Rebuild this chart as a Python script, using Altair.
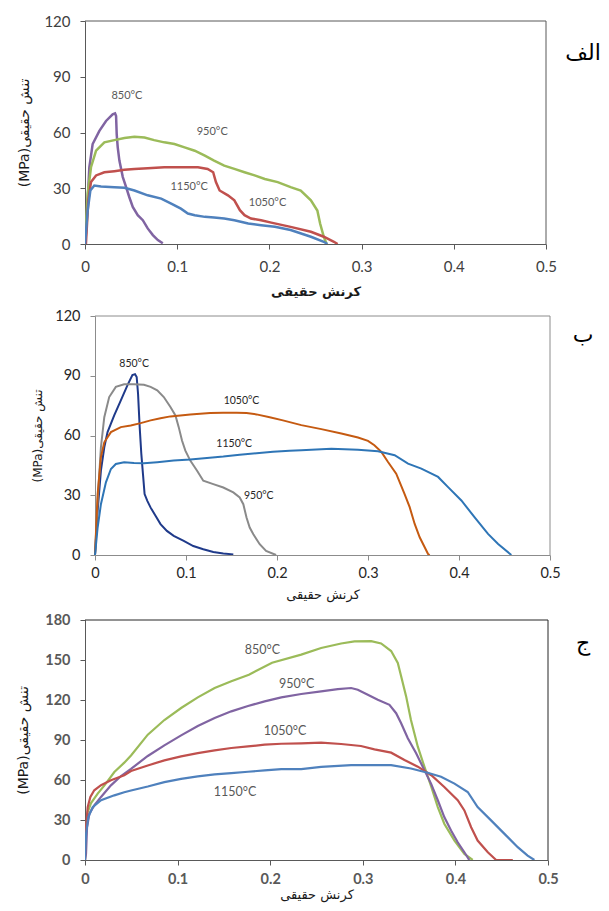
import altair as alt
import pandas as pd

TEMPS = ["850°C", "950°C", "1050°C", "1150°C"]
PANEL_LETTERS = ["الف", "ب", "ج"]
X_TITLE = "کرنش حقیقی"
Y_TITLE = "(MPa)تنش حقیقی"
X_TICKS = [0, 0.1, 0.2, 0.3, 0.4, 0.5]
Y_TICKS_AB = [0, 30, 60, 90, 120]
Y_TICKS_C = [0, 30, 60, 90, 120, 150, 180]

# ---------------- panel الف ----------------
a850_x = [0, 0.0011, 0.0047, 0.0083, 0.0156, 0.0228, 0.030, 0.0326, 0.0337, 0.0344, 0.0355, 0.0373, 0.041, 0.0446, 0.048, 0.0518, 0.0572, 0.0627, 0.068, 0.0736, 0.079, 0.0844]
a850_y = [0, 5.7, 41.3, 53.8, 60.9, 66.2, 69.8, 70.3, 68.9, 59, 52, 44.9, 36, 30.6, 25.3, 19.9, 15.5, 12.8, 8.4, 4.8, 2.1, 0.4]
a950_x = [0, 0.0015, 0.0029, 0.0065, 0.012, 0.021, 0.0319, 0.0428, 0.0536, 0.0645, 0.075, 0.086, 0.097, 0.108, 0.119, 0.13, 0.14, 0.151, 0.162, 0.173, 0.184, 0.195, 0.209, 0.223, 0.234, 0.245, 0.252, 0.255, 0.259, 0.262]
a950_y = [0, 14, 27, 41.3, 50.2, 54.7, 55.9, 57, 57.7, 57.3, 55.9, 54.7, 53.8, 52, 50.2, 47.5, 44.9, 42.2, 40.4, 38.6, 36.9, 35, 33.3, 30.6, 28.8, 23.5, 18, 11, 3.9, 0]
a1050_x = [0.001, 0.0036, 0.0065, 0.012, 0.021, 0.0319, 0.0428, 0.0536, 0.068, 0.086, 0.104, 0.1225, 0.133, 0.139, 0.142, 0.146, 0.155, 0.162, 0.168, 0.173, 0.180, 0.191, 0.202, 0.223, 0.245, 0.259, 0.27, 0.274]
a1050_y = [0, 23.5, 33.3, 36.9, 38.6, 39.2, 39.9, 40.4, 40.8, 41.3, 41.3, 41.3, 40.4, 38.6, 33.3, 28.8, 26.2, 23.5, 18.2, 15.5, 13.7, 12.8, 11.5, 9.2, 6.6, 3.9, 1.2, 0]
a1150_x = [0, 0.0029, 0.0058, 0.0101, 0.0174, 0.0319, 0.0428, 0.0536, 0.068, 0.0826, 0.0935, 0.104, 0.1116, 0.119, 0.13, 0.14, 0.151, 0.162, 0.177, 0.191, 0.206, 0.223, 0.245, 0.259, 0.263]
a1150_y = [0, 18, 28.8, 31.5, 31, 30.6, 30.3, 28.8, 26.2, 24.4, 21.7, 19, 16.4, 15.5, 14.6, 14.2, 13.7, 12.8, 11, 10.1, 9.3, 7.5, 3.9, 1.2, 0]
a_label_x = [0.0455, 0.138, 0.198, 0.113]
a_label_y = [79.5, 60.5, 22, 30.6]
a_colors = ["#8064A2", "#9BBB59", "#C0504D", "#4F81BD"]

# ---------------- panel ب ----------------
b850_x = [0, 0.0029, 0.0065, 0.0102, 0.0138, 0.0211, 0.0284, 0.0356, 0.0411, 0.044, 0.0458, 0.0473, 0.0491, 0.0509, 0.0527, 0.0545, 0.0575, 0.061, 0.0665, 0.072, 0.079, 0.0865, 0.0975, 0.108, 0.119, 0.130, 0.141, 0.152]
b850_y = [0, 22.2, 42.4, 54.1, 61.7, 70.1, 77.6, 85.2, 90.3, 90.8, 89.4, 81, 64.2, 50.8, 40.7, 30.6, 27.2, 23.9, 19.7, 15.5, 12.1, 9.6, 7.1, 4.5, 2.9, 1.5, 0.8, 0.3]
b950_x = [0, 0.0029, 0.0065, 0.0102, 0.0156, 0.0229, 0.032, 0.0429, 0.0538, 0.0611, 0.0684, 0.0756, 0.0829, 0.0884, 0.092, 0.0956, 0.0993, 0.1047, 0.112, 0.119, 0.130, 0.141, 0.152, 0.159, 0.163, 0.1665, 0.170, 0.174, 0.181, 0.188, 0.199]
b950_y = [0, 27.2, 54.1, 69.2, 79.3, 84.4, 85.7, 85.7, 85.5, 84.4, 82.7, 79.3, 74.3, 70.1, 64.2, 57.5, 52.4, 47.4, 42.4, 37.3, 35.6, 33.9, 31.4, 28.9, 25.5, 18.8, 13.8, 10.4, 5.4, 2, 0]
b1050_x = [0, 0.0029, 0.0065, 0.0102, 0.0175, 0.0284, 0.0393, 0.0502, 0.0611, 0.072, 0.0829, 0.0938, 0.1047, 0.1156, 0.1265, 0.141, 0.1556, 0.1665, 0.1775, 0.192, 0.2065, 0.2267, 0.2487, 0.2707, 0.289, 0.3, 0.307, 0.3147, 0.322, 0.331, 0.340, 0.3458, 0.3513, 0.3568, 0.3623, 0.366, 0.3678]
b1050_y = [0, 30.6, 49.1, 56.6, 61.7, 64.2, 65, 66.2, 67.6, 68.7, 69.6, 70.1, 70.6, 70.9, 71.3, 71.4, 71.4, 71.3, 70.6, 69.2, 67.6, 65.2, 63.2, 61, 59, 57.3, 55.1, 51.8, 46.7, 40.8, 30.8, 24, 15.6, 8.9, 3.9, 0.5, 0]
b1150_x = [0, 0.0029, 0.0065, 0.012, 0.0175, 0.0229, 0.032, 0.0429, 0.0538, 0.0684, 0.0865, 0.1047, 0.123, 0.141, 0.159, 0.1775, 0.1956, 0.2138, 0.2267, 0.2597, 0.289, 0.311, 0.3293, 0.344, 0.3586, 0.377, 0.388, 0.4026, 0.417, 0.4319, 0.443, 0.4575]
b1150_y = [0, 13.8, 25.5, 36.5, 43.2, 45.7, 46.6, 46.2, 46.1, 46.6, 47.4, 47.9, 48.7, 49.4, 50.3, 51.1, 51.9, 52.4, 52.6, 53.4, 52.9, 52.1, 50.1, 45.9, 43.4, 39.2, 34.1, 27.4, 19, 10.6, 5.5, 0]
b_label_x = [0.043, 0.180, 0.161, 0.153]
b_label_y = [95.8, 29.8, 77.3, 55.8]
b_colors = ["#1F3A8A", "#8A8A8A", "#C55A11", "#2E75B6"]

# ---------------- panel ج ----------------
c850_x = [0, 0.0011, 0.0029, 0.0065, 0.0137, 0.021, 0.0317, 0.0424, 0.0497, 0.0678, 0.0857, 0.1038, 0.1218, 0.14, 0.158, 0.177, 0.202, 0.2335, 0.255, 0.2766, 0.291, 0.309, 0.3198, 0.3306, 0.3378, 0.3414, 0.3468, 0.352, 0.3594, 0.3665, 0.374, 0.381, 0.388, 0.399, 0.4097, 0.4187]
c850_y = [0, 19.6, 36, 42.7, 49.8, 56, 66, 73, 78.4, 94, 105, 114, 122, 129, 134, 139, 148, 154, 159, 162.4, 164, 164.2, 162.4, 156.7, 147.8, 137.8, 122.7, 105, 85, 70, 54.8, 39.7, 27.2, 14.6, 4.5, 0]
c950_x = [0, 0.0011, 0.0022, 0.0047, 0.01, 0.0173, 0.028, 0.0389, 0.0497, 0.0678, 0.0857, 0.1038, 0.1218, 0.14, 0.158, 0.176, 0.194, 0.212, 0.2335, 0.255, 0.273, 0.2874, 0.2946, 0.3054, 0.3162, 0.3288, 0.336, 0.3414, 0.3486, 0.3576, 0.3665, 0.3737, 0.381, 0.388, 0.3953, 0.4025, 0.4097, 0.415]
c950_y = [0, 4.5, 24.6, 34.7, 41, 47.3, 56, 63, 68.4, 78, 86, 93.5, 100.5, 106.5, 111.5, 115.5, 119, 122, 124.5, 126.5, 128.2, 129, 127.7, 124, 120.2, 116.4, 110.1, 102.6, 91.3, 80, 67.4, 57.3, 44.8, 32.2, 22.1, 13.3, 5.8, 0]
c1050_x = [0, 0.0011, 0.0029, 0.0058, 0.01, 0.0173, 0.028, 0.0424, 0.0497, 0.0678, 0.0857, 0.1038, 0.1218, 0.14, 0.158, 0.176, 0.194, 0.212, 0.2335, 0.255, 0.2766, 0.298, 0.3126, 0.3306, 0.345, 0.3594, 0.374, 0.388, 0.4025, 0.4097, 0.417, 0.424, 0.435, 0.444, 0.462]
c1050_y = [0, 24.6, 39.7, 47.3, 52.3, 56.1, 59.8, 63.6, 66.7, 70.9, 74.7, 77.7, 80.2, 82.2, 84, 85.2, 86.5, 87.2, 87.5, 88, 87, 85.5, 83, 80.5, 75, 70, 63.6, 54.8, 44.8, 37.2, 24.6, 14.6, 5.8, 0, 0]
c1150_x = [0, 0.0011, 0.0036, 0.0083, 0.0173, 0.0317, 0.0424, 0.0497, 0.0678, 0.0857, 0.1038, 0.1218, 0.14, 0.158, 0.176, 0.194, 0.212, 0.2335, 0.255, 0.2874, 0.3306, 0.352, 0.37, 0.3845, 0.399, 0.4133, 0.424, 0.4385, 0.453, 0.4673, 0.478, 0.4853]
c1150_y = [0, 19.6, 32.2, 39.7, 44.8, 48.5, 50.8, 52.1, 55.1, 58.4, 60.9, 62.7, 64.2, 65.2, 66.2, 67.2, 68.2, 68.1, 69.9, 71.2, 71.2, 68.6, 65.4, 62.4, 57.3, 51, 39.7, 29.7, 19.6, 9.6, 3.3, 0]
c_label_x = [0.1917, 0.2286, 0.216, 0.162]
c_label_y = [157.5, 132, 97, 50.8]
c_colors = ["#9BBB59", "#8064A2", "#C0504D", "#4F81BD"]


def curves_df(pairs, key):
    frames = []
    for name, (xs, ys) in zip(TEMPS, pairs):
        frames.append(pd.DataFrame({"strain": xs, "stress": ys, key: name,
                                    "idx": list(range(len(xs)))}))
    return pd.concat(frames, ignore_index=True)


def make_panel(pairs, colors, lab_x, lab_y, letter, st, key):
    df = curves_df(pairs, key)
    lab = pd.DataFrame({"strain": lab_x, "stress": lab_y, "label": TEMPS})
    xoff = st["xoff"]
    xs = alt.Scale(domain=[0, 0.5], nice=False, range=[xoff, st["w"]])
    ys = alt.Scale(domain=[0, st["ymax"]], nice=False)
    xaxis = alt.Axis(values=X_TICKS, format=".1~f", title=X_TITLE, grid=False,
                     labelFont="Lato", labelFontSize=st["lfs"], labelColor=st["lc"],
                     labelFontWeight=st["lfw"], labelFlush=False, labelOverlap=False,
                     tickSize=5, labelPadding=st["xlp"], titlePadding=st["xtp"],
                     titleFont="DejaVu Sans", titleFontSize=13, titleFontWeight=st["xtw"],
                     titleColor="#1a1a1a", domainColor=st["ac"], tickColor=st["ac"])
    yaxis = alt.Axis(values=st["yticks"], format="d", title=Y_TITLE, grid=False,
                     labelFont="Lato", labelFontSize=st["lfs"], labelColor=st["lc"],
                     labelFontWeight=st["lfw"], labelFlush=False, labelOverlap=False,
                     tickSize=5, labelPadding=10, titlePadding=st["ytp"], offset=-xoff,
                     titleFont="DejaVu Sans", titleFontSize=st["ytfs"], titleFontWeight="normal",
                     titleColor="#1a1a1a", domainColor=st["ac"], tickColor=st["ac"])
    X = lambda f: alt.X(f, scale=xs, axis=xaxis)
    Y = lambda f: alt.Y(f, scale=ys, axis=yaxis)
    bound = alt.Chart(pd.DataFrame({"k": [0]})).mark_rule(color="white", strokeWidth=1).encode(
        x=alt.value(-76), y=alt.value(st["bt"]), y2=alt.value(st["bb"]))
    frame_df = pd.DataFrame({"strain": [0, 0.5], "fx2": [0.5, 0.5],
                             "stress": [st["ymax"], 0], "fy2": [st["ymax"], st["ymax"]]})
    frame = alt.Chart(frame_df).mark_rule(color=st["fc"], strokeWidth=1).encode(
        x=X("strain:Q"), x2="fx2:Q", y=Y("stress:Q"), y2="fy2:Q")
    lines = alt.Chart(df).mark_line(strokeWidth=st["sw"], clip=True).encode(
        x=X("strain:Q"), y=Y("stress:Q"),
        color=alt.Color(f"{key}:N", scale=alt.Scale(domain=TEMPS, range=colors), legend=None),
        order=alt.Order("idx:Q"),
    )
    texts = alt.Chart(lab).mark_text(font="Lato", fontSize=st["tfs"], color=st["tc"]).encode(
        x=X("strain:Q"), y=Y("stress:Q"), text="label:N")
    let = alt.Chart(pd.DataFrame({"t": [letter]})).mark_text(
        font="DejaVu Sans", fontSize=22, color="#000000").encode(
        x=alt.value(st["lx"]), y=alt.value(st["ly"]), text="t:N")
    return alt.layer(bound, lines, frame, texts, let).properties(
        width=st["w"], height=st["h"],
        view=alt.ViewBackground(stroke="transparent", strokeWidth=0))


pa = make_panel([(a850_x, a850_y), (a950_x, a950_y), (a1050_x, a1050_y), (a1150_x, a1150_y)],
                a_colors, a_label_x, a_label_y, PANEL_LETTERS[0],
                dict(ymax=120, yticks=Y_TICKS_AB, w=461, h=223, xoff=0, lfs=15, lc="#404040", lfw="normal",
                     xlp=10, xtp=11, xtw="bold", ytp=12, ytfs=14, ac="#595959", fc="#595959",
                     sw=2.5, tfs=11, tc="#595959", bt=-12, bb=282, lx=498, ly=32), "temp_a")
pb = make_panel([(b850_x, b850_y), (b950_x, b950_y), (b1050_x, b1050_y), (b1150_x, b1150_y)],
                b_colors, b_label_x, b_label_y, PANEL_LETTERS[1],
                dict(ymax=120, yticks=Y_TICKS_AB, w=465, h=239, xoff=10, lfs=14.5, lc="#262626", lfw="normal",
                     xlp=6, xtp=9, xtw="normal", ytp=10, ytfs=12, ac="#8c8c8c", fc="#8c8c8c",
                     sw=2, tfs=10.5, tc="#262626", bt=-11, bb=292, lx=498, ly=19), "temp_b")
pc = make_panel([(c850_x, c850_y), (c950_x, c950_y), (c1050_x, c1050_y), (c1150_x, c1150_y)],
                c_colors, c_label_x, c_label_y, PANEL_LETTERS[2],
                dict(ymax=180, yticks=Y_TICKS_C, w=463, h=240, xoff=0, lfs=14.5, lc="#595959", lfw="bold",
                     xlp=7, xtp=3, xtw="normal", ytp=14, ytfs=14, ac="#595959", fc="#262626",
                     sw=2.2, tfs=12.5, tc="#595959", bt=-10, bb=283, lx=498, ly=23), "temp_c")

chart = alt.vconcat(pa, pb, pc, spacing=0).resolve_scale(color="independent").properties(padding=0)
chart.save("out.html", embed_options={"renderer": "svg", "actions": False})
